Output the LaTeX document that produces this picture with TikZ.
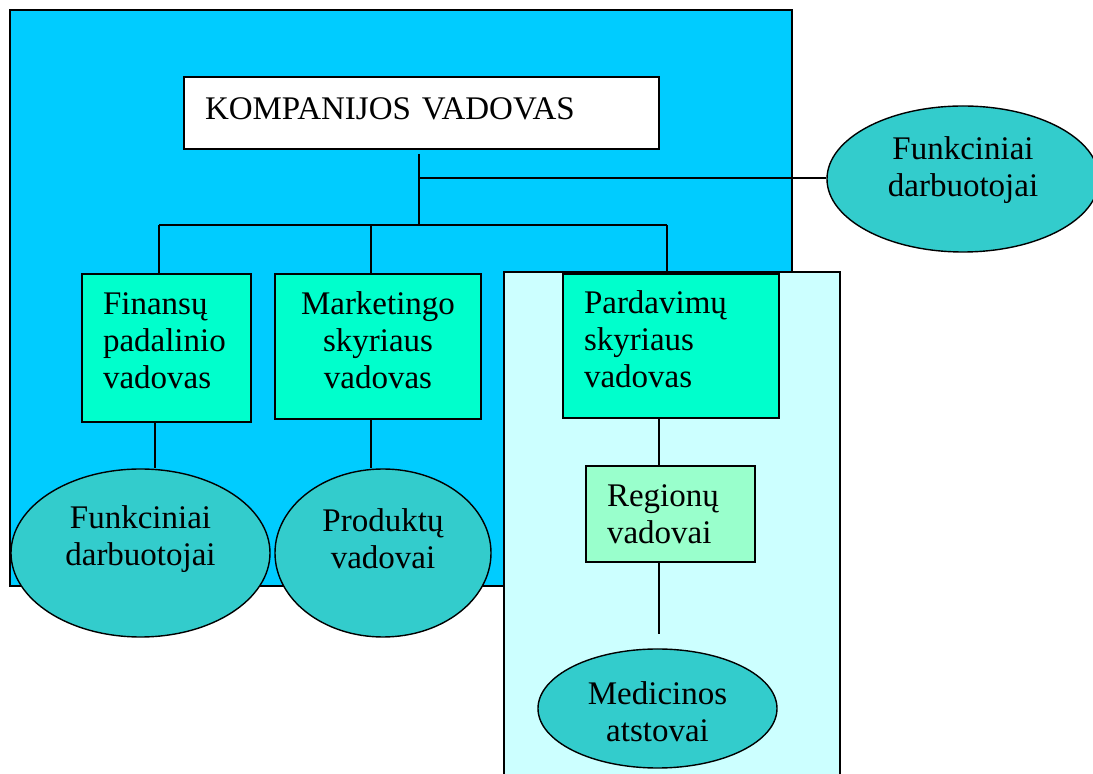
\documentclass[tikz,border=0pt]{standalone}
\usepackage{fontspec}
\setmainfont{Liberation Serif}
\usetikzlibrary{shapes.geometric}

\definecolor{outerblue}{HTML}{00CCFF}
\definecolor{salesarea}{HTML}{CCFFFF}
\definecolor{headfill}{HTML}{00FFCC}
\definecolor{regfill}{HTML}{99FFCC}
\definecolor{ovalfill}{HTML}{33CCCC}

\begin{document}
\begin{tikzpicture}[x=0.5pt, y=-0.5pt, line width=0.7pt,
 every node/.style={font=\fontsize{16.5}{18.5}\selectfont},
 headbox/.style={shape=rectangle, draw, fill=headfill, inner xsep=10.5pt, inner ysep=0pt, align=left},
 oval/.style={shape=ellipse, draw, fill=ovalfill, inner sep=0pt},
 olabel/.style={align=center},
]

\clip (0,0) rectangle (1093,774);

%areas
\draw[fill=outerblue] (10,10) rectangle (792,586);
\draw[fill=salesarea] (504,272) rectangle (840,800);

%boxes
\node[headbox, fill=white, text width=216.5pt, minimum height=36pt, text depth=4pt] (ceo) at (421.5,113) {KOMPANIJOS VADOVAS};
\node[headbox, text width=63.5pt, minimum height=74pt, text depth=44pt] (fin) at (166.5,348) {Finansų\\padalinio\\vadovas};
\node[headbox, text width=82pt, minimum height=72.5pt, text depth=43pt, align=center] (mkt) at (378,346.5) {Marketingo\\skyriaus\\vadovas};
\node[headbox, text width=87pt, minimum height=72pt, text depth=44pt] (par) at (671,346) {Pardavimų\\skyriaus\\vadovas};
\node[headbox, fill=regfill, text width=63.5pt, minimum height=48pt] (reg) at (670.5,514) {Regionų\\vadovai};

%ovals
\node[oval, minimum width=136pt, minimum height=73pt,
 label={[olabel, yshift=4.5pt]center:{Funkciniai\\darbuotojai}}] (fd0) at (963,179) {};
\node[oval, minimum width=129.5pt, minimum height=84pt,
 label={[olabel, yshift=7pt]center:{Funkciniai\\darbuotojai}}] (fd1) at (140.5,553) {};
\node[oval, minimum width=108pt, minimum height=84pt,
 label={[olabel, yshift=7pt]center:{Produktų\\vadovai}}] (prod) at (383,553) {};
\node[oval, minimum width=119.5pt, minimum height=59.5pt,
 label={[olabel, yshift=-1.5pt]center:{Medicinos\\atstovai}}] (med) at (657.5,708.5) {};

%trunk
\coordinate (ttop) at (419,154);
\coordinate (tmid) at (419,178);
\coordinate (tbot) at (419,226);
\coordinate (bl) at (159,225);
\coordinate (bm) at (371,225);
\coordinate (br) at (667,225);
\draw (ttop) -- (tbot);
\draw (tmid) -- (tmid -| fd0.west);
\draw (bl) -- (br);
\draw (bl) -- (bl |- fin.north);
\draw (bm) -- (bm |- mkt.north);
\draw (br) -- (br |- par.north);

%down lines
\coordinate (fl) at (155,0);
\coordinate (pl) at (659,0);
\coordinate (rend) at (659,634);
\draw (fin.south -| fl) -- (fd1.north -| fl);
\draw (mkt.south -| bm) -- (prod.north -| bm);
\draw (par.south -| pl) -- (reg.north -| pl);
\draw (reg.south -| pl) -- (rend);

\end{tikzpicture}
\end{document}
